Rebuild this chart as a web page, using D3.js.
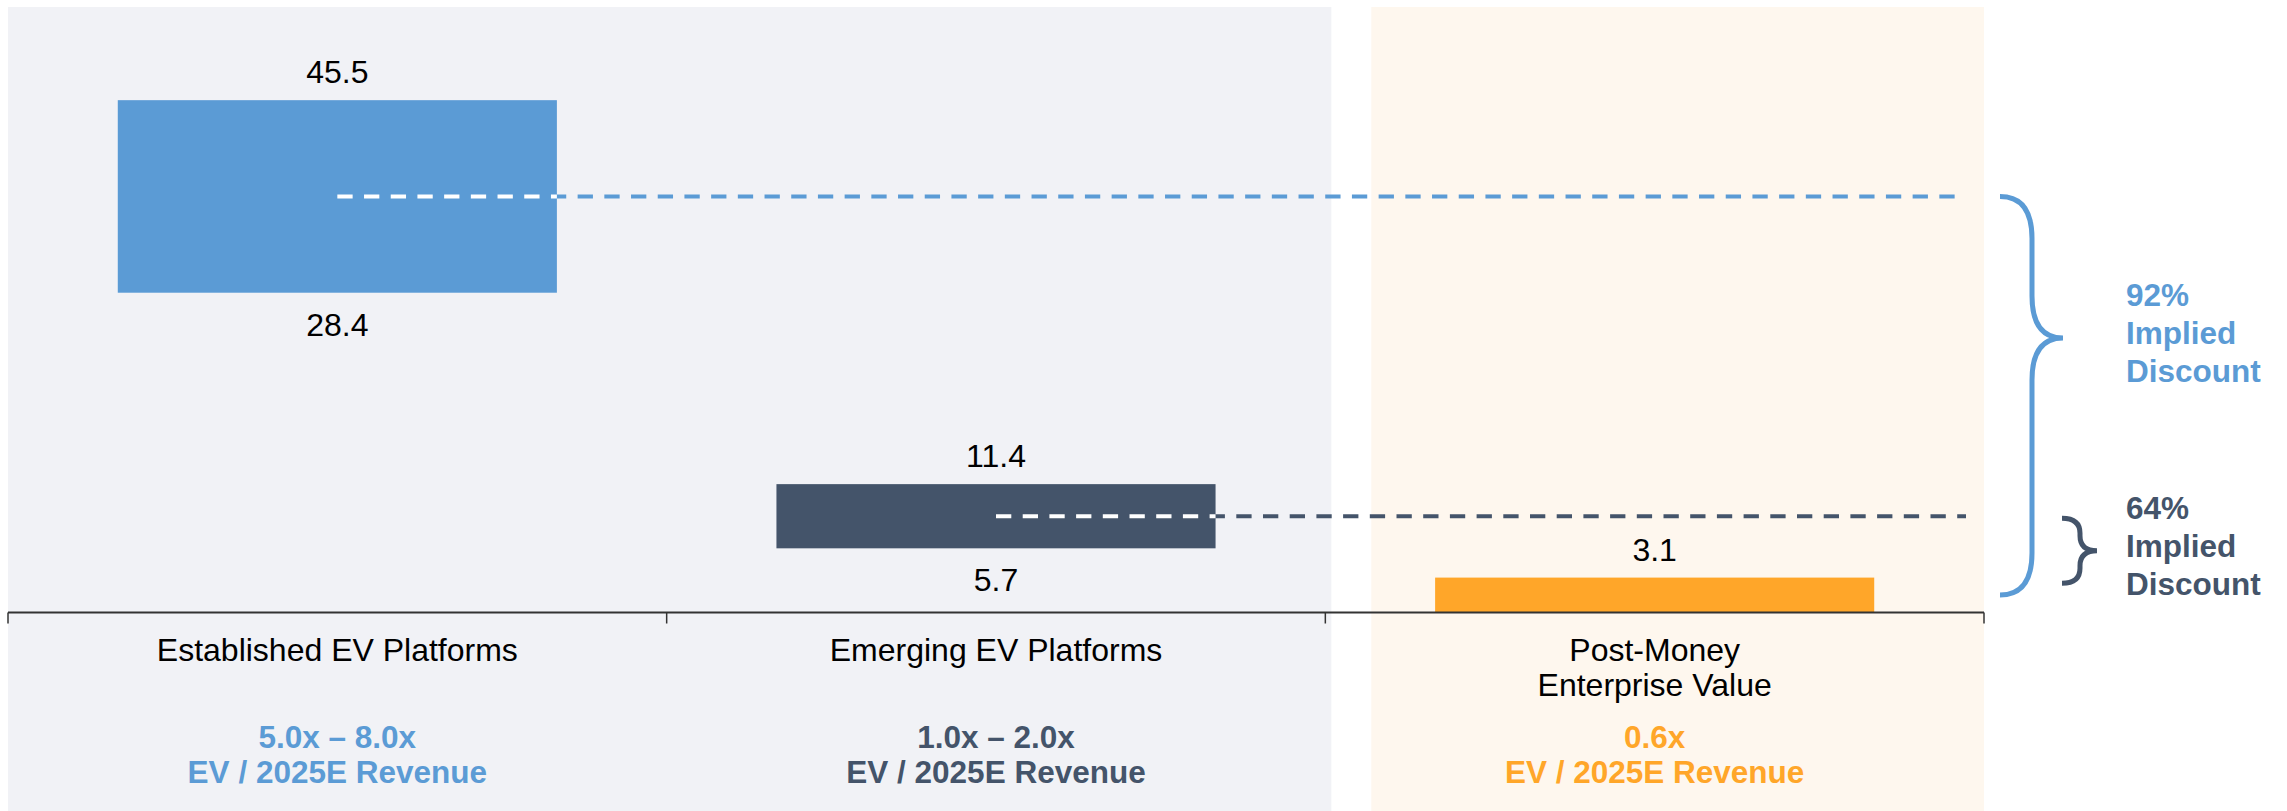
<!DOCTYPE html>
<html>
<head>
<meta charset="utf-8">
<script src="https://cdn.jsdelivr.net/npm/d3@7.9.0/dist/d3.min.js"></script>
<style>
  body { margin: 0; background: #fff; }
  text { font-family: "Liberation Sans", Arial, sans-serif; }
</style>
</head>
<body>
<svg id="chart" width="2287" height="811"></svg>
<script>
// data
const categories = [['Established EV Platforms'], ['Emerging EV Platforms'], ['Post-Money', 'Enterprise Value']];
const lowValues = [28.4, 5.7, 0];
const highValues = [45.5, 11.4, 3.1];
const multiples = ['5.0x \u2013 8.0x', '1.0x \u2013 2.0x', '0.6x'];
const multipleUnit = 'EV / 2025E Revenue';
const discounts = ['92%', '64%'];   // vs Established, vs Emerging
const colors = ['#5B9BD5', '#44546A', '#FFA629'];

const svg = d3.select('#chart');
const H = 811;

const x = d3.scaleBand()
  .domain(d3.range(categories.length))
  .range([8, 1984])
  .paddingInner(1 / 3)
  .paddingOuter(1 / 6);

const y = d3.scaleLinear().domain([0, 50]).range([612.5, 49.5]);

const step = x.step();
const x0 = x.range()[0];
const cx = i => x(i) + x.bandwidth() / 2;

// background panels
svg.append('rect')
  .attr('x', x0).attr('y', 7)
  .attr('width', 2 * step + 6).attr('height', H - 7)
  .attr('fill', '#F1F2F6');
svg.append('rect')
  .attr('x', x0 + 2 * step + 46).attr('y', 7)
  .attr('width', step - 46).attr('height', H - 7)
  .attr('fill', '#FEF7EE');

// floating bars
const bars = svg.append('g');
bars.selectAll('rect')
  .data(d3.range(categories.length))
  .join('rect')
  .attr('x', i => x(i))
  .attr('width', x.bandwidth())
  .attr('y', i => y(highValues[i]))
  .attr('height', i => y(lowValues[i]) - y(highValues[i]))
  .attr('fill', i => colors[i]);

// dashed midpoint lines, white where they cross their own bar
const lineEnd = 1966;
const dash = '15.3 11.4';
[0, 1].forEach(i => {
  const my = y((lowValues[i] + highValues[i]) / 2);
  svg.append('line')
    .attr('x1', cx(i)).attr('x2', lineEnd)
    .attr('y1', my).attr('y2', my)
    .attr('stroke', colors[i]).attr('stroke-width', 4)
    .attr('stroke-dasharray', dash);
  svg.append('line')
    .attr('x1', cx(i)).attr('x2', x(i) + x.bandwidth())
    .attr('y1', my).attr('y2', my)
    .attr('stroke', '#fff').attr('stroke-width', 4)
    .attr('stroke-dasharray', dash);
});

// value labels
const labels = svg.append('g')
  .attr('font-size', 32)
  .attr('text-anchor', 'middle')
  .attr('fill', '#000');
d3.range(categories.length).forEach(i => {
  labels.append('text')
    .attr('x', cx(i)).attr('y', y(highValues[i]) - 17)
    .text(highValues[i].toFixed(1));
  if (lowValues[i] > 0) {
    labels.append('text')
      .attr('x', cx(i)).attr('y', y(lowValues[i]) + 43)
      .text(lowValues[i].toFixed(1));
  }
});

// axis line with boundary ticks
const axis = svg.append('g');
axis.append('line')
  .attr('x1', x0).attr('x2', x.range()[1])
  .attr('y1', y(0)).attr('y2', y(0))
  .attr('stroke', '#333').attr('stroke-width', 2);
axis.selectAll('.tick')
  .data(d3.range(categories.length + 1))
  .join('line')
  .attr('x1', d => x0 + d * step).attr('x2', d => x0 + d * step)
  .attr('y1', y(0)).attr('y2', y(0) + 11)
  .attr('stroke', '#333').attr('stroke-width', 1.5);

// category names and multiples
const cats = svg.append('g').attr('text-anchor', 'middle');
categories.forEach((lines, i) => {
  const t = cats.append('text').attr('x', cx(i)).attr('y', 661)
    .attr('font-size', 32).attr('fill', '#000');
  lines.forEach((l, k) => t.append('tspan').attr('x', cx(i)).attr('dy', k ? 35 : 0).text(l));
  const m = cats.append('text').attr('x', cx(i)).attr('y', 748)
    .attr('font-size', 31.5)
    .attr('fill', colors[i]).attr('font-weight', 'bold');
  m.append('tspan').attr('x', cx(i)).text(multiples[i]);
  m.append('tspan').attr('x', cx(i)).attr('dy', 35).text(multipleUnit);
});

// braces
function bracePath(xe, xs, xt, y0, yt, y1, r) {
  return `M${xe},${y0} Q${xs},${y0} ${xs},${y0 + r} L${xs},${yt - r} Q${xs},${yt} ${xt},${yt}` +
         ` Q${xs},${yt} ${xs},${yt + r} L${xs},${y1 - r} Q${xs},${y1} ${xe},${y1}`;
}

const bigTop = y((lowValues[0] + highValues[0]) / 2);
const bigBot = y(highValues[2] / 2);
const bigTip = bigTop + 0.355 * (bigBot - bigTop);
svg.append('path')
  .attr('d', bracePath(2000, 2032, 2063, bigTop, bigTip, bigBot, 42))
  .attr('fill', 'none').attr('stroke', colors[0]).attr('stroke-width', 5);

const smTop = y((lowValues[1] + highValues[1]) / 2) + 2;
const smBot = smTop + 65;
const smTip = (smTop + smBot) / 2;
svg.append('path')
  .attr('d', bracePath(2062, 2080, 2097, smTop, smTip, smBot, 15))
  .attr('fill', 'none').attr('stroke', colors[1]).attr('stroke-width', 5);

// discount labels
[[bigTip, 0], [smTip, 1]].forEach(([tip, i]) => {
  const t = svg.append('text')
    .attr('x', 2126).attr('y', tip - 32)
    .attr('font-size', 31.5).attr('font-weight', 'bold')
    .attr('fill', colors[i]);
  [discounts[i], 'Implied', 'Discount'].forEach((l, k) =>
    t.append('tspan').attr('x', 2126).attr('dy', k ? 38 : 0).text(l));
});
</script>
</body>
</html>
